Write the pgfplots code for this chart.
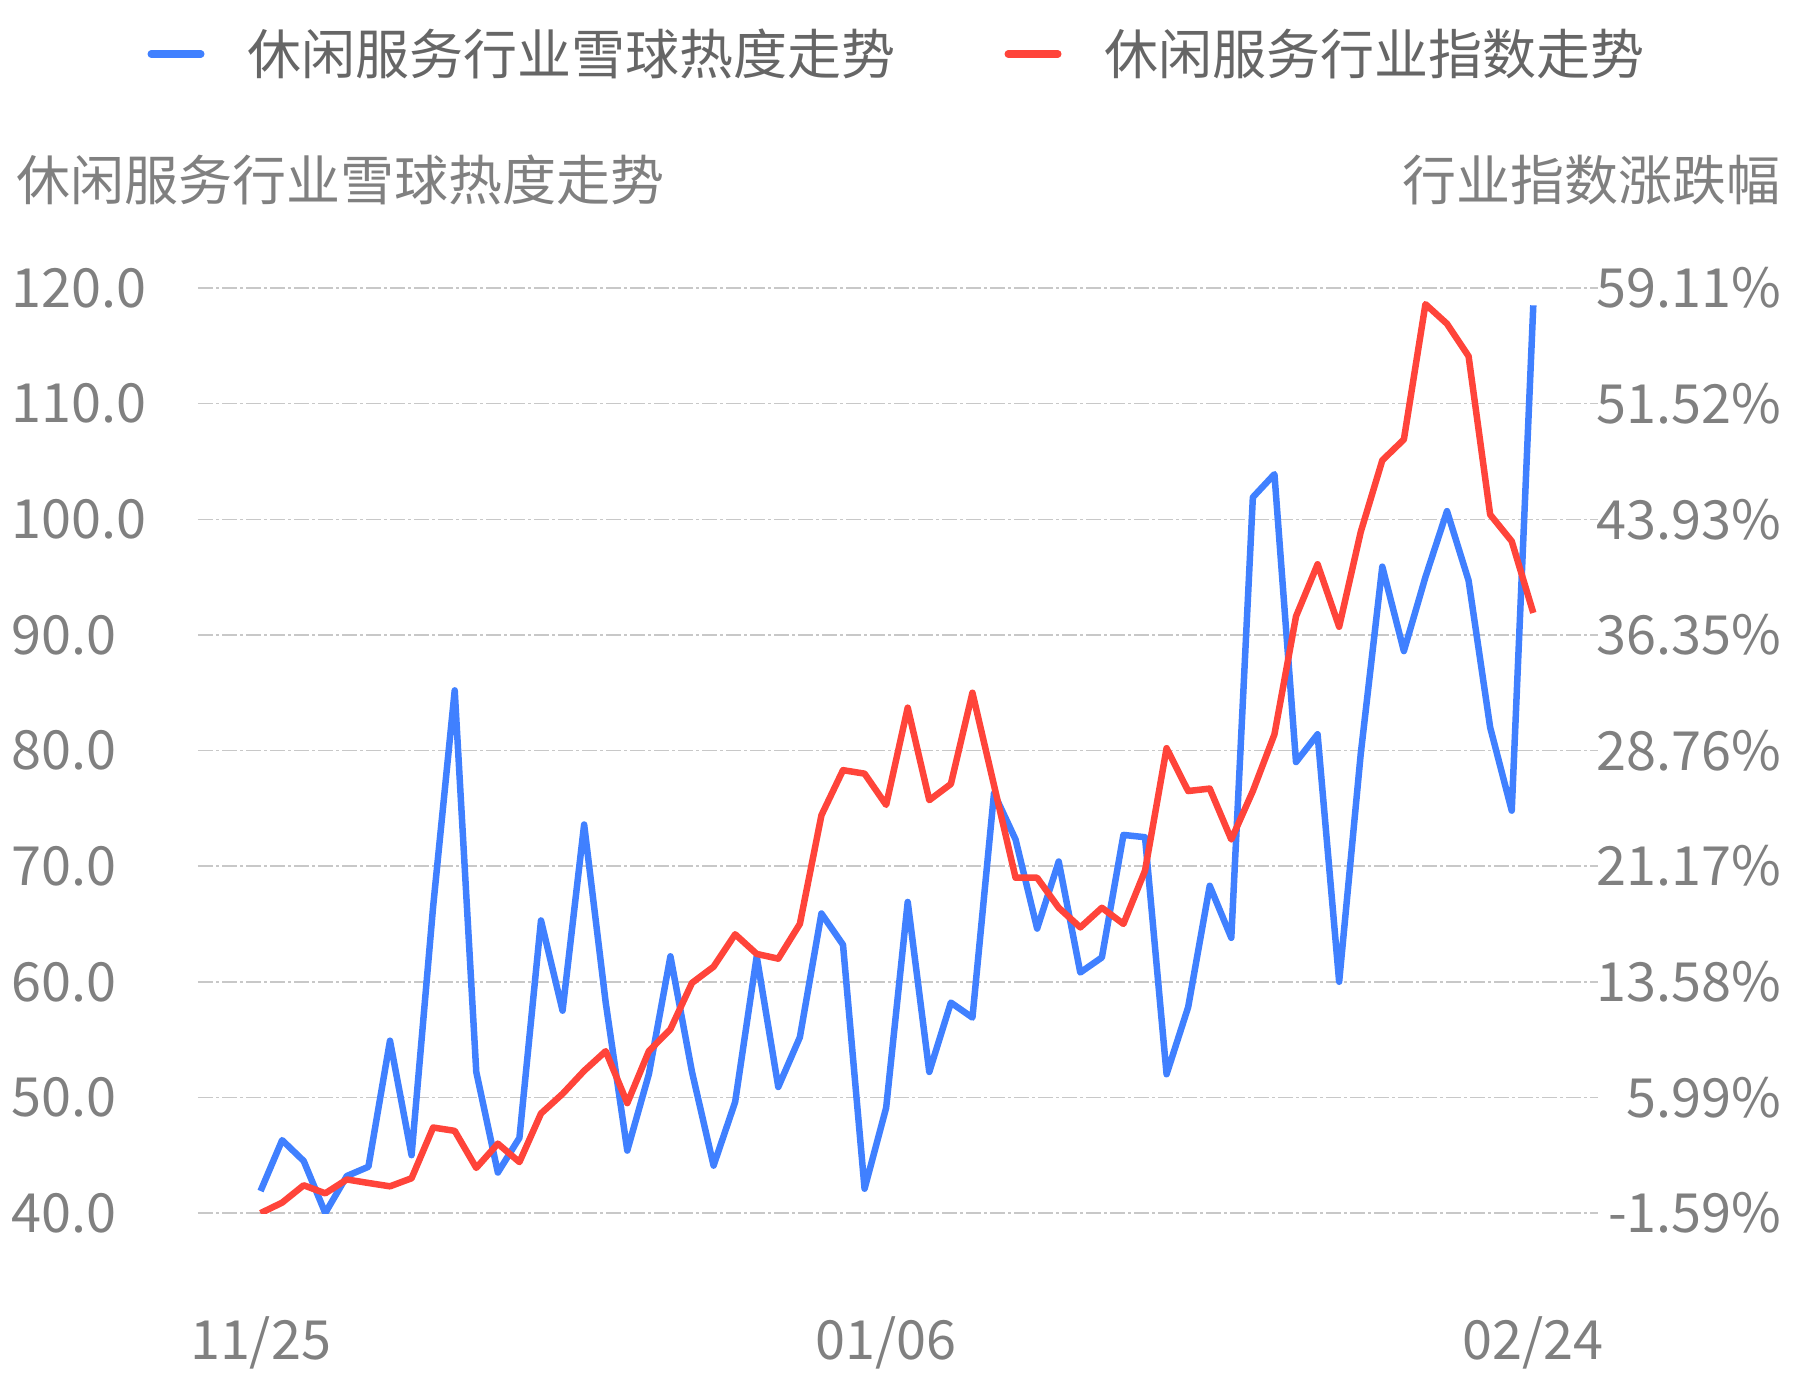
\documentclass[border=0pt]{standalone}
\usepackage{fontspec}
\setmainfont{Noto Sans CJK SC}
\usepackage{pgfplots}
\pgfplotsset{compat=1.18}
\definecolor{cblue}{RGB}{64,128,255}
\definecolor{cred}{RGB}{255,68,58}
\definecolor{tgray}{RGB}{128,128,128}
\definecolor{lgray}{RGB}{102,102,102}
\definecolor{ggray}{RGB}{200,200,200}
\newcommand{\fs}{\fontsize{21.6pt}{26pt}\selectfont}

\pgfplotstableread{
x y
0 41.9
1 46.3
2 44.5
3 40.0
4 43.2
5 44.0
6 54.9
7 45.0
8 66.5
9 85.2
10 52.2
11 43.5
12 46.5
13 65.3
14 57.5
15 73.6
16 58.2
17 45.4
18 52.0
19 62.2
20 52.2
21 44.1
22 49.6
23 62.2
24 50.9
25 55.2
26 65.9
27 63.2
28 42.1
29 49.1
30 66.9
31 52.2
32 58.2
33 56.9
34 76.3
35 72.3
36 64.6
37 70.4
38 60.8
39 62.1
40 72.7
41 72.5
42 52.0
43 57.8
44 68.3
45 63.8
46 101.9
47 103.9
48 79.0
49 81.4
50 60.0
51 79.7
52 95.9
53 88.6
54 95.0
55 100.7
56 94.7
57 82.0
58 74.8
59 118.5
}\heat

\pgfplotstableread{
x y
0 -1.60
1 -0.91
2 0.23
3 -0.30
4 0.61
5 0.38
6 0.16
7 0.69
8 4.02
9 3.80
10 1.37
11 2.96
12 1.75
13 4.94
14 6.23
15 7.74
16 9.03
17 5.62
18 9.03
19 10.47
20 13.51
21 14.57
22 16.70
23 15.41
24 15.10
25 17.38
26 24.51
27 27.47
28 27.24
29 25.19
30 31.57
31 25.50
32 26.56
33 32.55
34 26.48
35 20.41
36 20.41
37 18.44
38 17.15
39 18.44
40 17.38
41 20.87
42 28.91
43 26.10
44 26.26
45 22.92
46 26.10
47 29.82
48 37.56
49 40.98
50 36.88
51 43.10
52 47.80
53 49.17
54 58.05
55 56.76
56 54.63
57 44.24
58 42.49
59 37.79
}\index

\begin{document}
\begin{tikzpicture}
\path[use as bounding box] (0,0) rectangle (717.2pt,552pt);
\begin{axis}[
  at={(79.2pt,66.8pt)}, anchor=south west,
  scale only axis, width=560pt, height=370pt,
  xmin=-2.9, xmax=62, ymin=40, ymax=120,
  axis line style={draw=none},
  major tick length=0pt,
  xtick={0,29,59}, xticklabels={11/25,01/06,02/24},
  ytick={40,50,60,70,80,90,100,110,120},
  yticklabels={40.0,50.0,60.0,70.0,80.0,90.0,100.0,110.0,120.0},
  ymajorgrids,
  grid style={ggray, line width=0.6pt, dash pattern=on 6pt off 1.3pt on 1pt off 1.3pt},
  tick label style={font=\fs, text=tgray, inner sep=0pt},
  yticklabel style={anchor=west, xshift=-74.8pt},
  xticklabel style={anchor=base, yshift=-58.4pt},
  legend columns=2,
  legend image code/.code={\draw[#1, line width=3pt, line cap=round] (1.5pt,0pt) -- (21.3pt,0pt);},
  legend style={at={(0.4986,1.253)}, anchor=center, draw=none, fill=none,
    font=\fs, text=lgray, inner sep=0pt,
    /tikz/every odd column/.append style={column sep=17.2pt},
    /tikz/every even column/.append style={column sep=43.6pt},
    nodes={inner sep=0pt}},
]
\addplot[cblue, line width=2.6pt, line join=round] table[x=x, y=y] {\heat};
\addlegendentry{休闲服务行业雪球热度走势}
\addlegendimage{cred}
\addlegendentry{休闲服务行业指数走势}
\end{axis}
\begin{axis}[
  at={(79.2pt,66.8pt)}, anchor=south west,
  scale only axis, width=560pt, height=370pt,
  xmin=-2.9, xmax=62, ymin=-1.59, ymax=59.11,
  axis y line*=right, axis x line=none,
  axis line style={draw=none},
  major tick length=0pt,
  ytick={-1.59,5.99,13.58,21.17,28.76,36.35,43.93,51.52,59.11},
  yticklabels={-1.59\%,5.99\%,13.58\%,21.17\%,28.76\%,36.35\%,43.93\%,51.52\%,59.11\%},
  tick label style={font=\fs, text=tgray, inner sep=0pt},
  yticklabel style={anchor=east, xshift=73.6pt},
]
\addplot[cred, line width=2.6pt, line join=round] table[x=x, y=y] {\index};
\end{axis}
\node[anchor=west, font=\fs, text=tgray, inner sep=0pt] at (6.4pt,480pt) {休闲服务行业雪球热度走势};
\node[anchor=east, font=\fs, text=tgray, inner sep=0pt] at (712.4pt,480pt) {行业指数涨跌幅};
\end{tikzpicture}
\end{document}
